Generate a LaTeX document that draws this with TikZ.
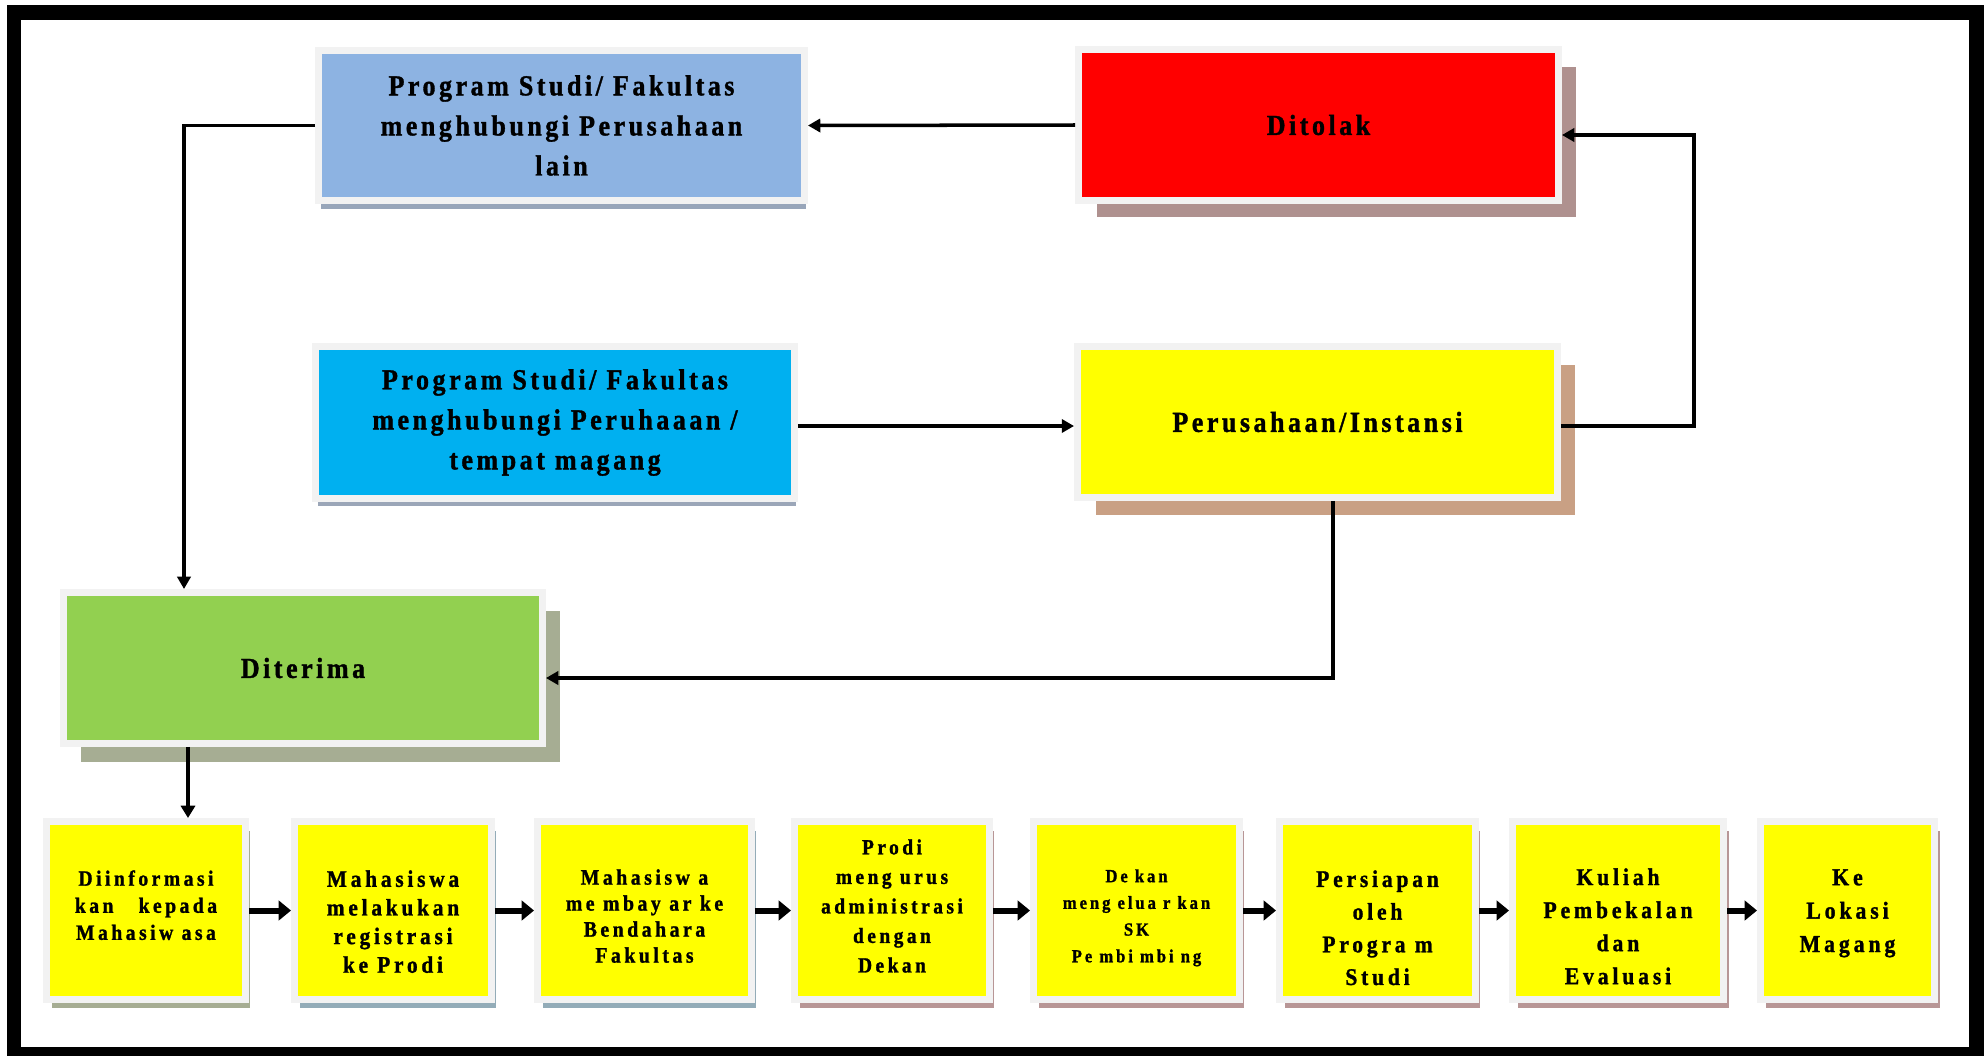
\documentclass[tikz,border=0pt]{standalone}
\usepackage{fontspec}
\newfontfamily\bx[FakeStretch=0.9,LetterSpace=12,FakeBold=1.2]{Liberation Serif}
\newfontfamily\bxs[FakeStretch=0.9,LetterSpace=16,FakeBold=1.2]{Liberation Serif}
\usetikzlibrary{arrows.meta,shadows}
\definecolor{bordergray}{HTML}{F2F2F2}
\definecolor{lblue}{HTML}{8DB3E2}
\definecolor{lbluesh}{HTML}{98A6BA}
\definecolor{redfill}{HTML}{FF0000}
\definecolor{redsh}{HTML}{AF918F}
\definecolor{cyanfill}{HTML}{00B0F0}
\definecolor{cyansh}{HTML}{9BA6B8}
\definecolor{yel}{HTML}{FFFF00}
\definecolor{persh}{HTML}{C9A084}
\definecolor{grn}{HTML}{92D050}
\definecolor{grnsh}{HTML}{A6AD93}
\definecolor{bluegraysh}{HTML}{93ACB8}
\definecolor{mauvesh}{HTML}{B89696}
\newcommand\bxf[2]{\bx\bfseries\fontsize{#1}{#2}\selectfont}
\newcommand\bxsf[2]{\bxs\bfseries\fontsize{#1}{#2}\selectfont}
\tikzset{
  frame/.style={draw=black, line width=0.3cm},
  bigbox/.style={draw=bordergray, line width=0.14cm, inner sep=0pt, align=center,
                 font={\bxf{16.5}{22.8}}, text=black},
  smallbox/.style={draw=bordergray, line width=0.14cm, inner sep=0pt, fill=yel,
                 minimum height=3.56cm},
  lbl/.style={inner sep=0pt, align=center, anchor=north, text=black},
  conn/.style={line width=2pt, -{Triangle[length=7pt,width=7.5pt]}},
  flow/.style={line width=3.4pt, -{Triangle[length=7pt,width=11pt]}},
  down/.style={line width=2.4pt, -{Triangle[length=7pt,width=8pt]}},
}
\begin{document}
\begin{tikzpicture}[x=0.02cm,y=-0.02cm]
\useasboundingbox (0,0) rectangle (1984,1055);
\draw[frame] (14,12.5) rectangle (1976.5,1054);

% upper boxes
\node[bigbox, fill=lblue, minimum width=9.72cm, minimum height=3.0cm,
  drop shadow={shadow xshift=0.04cm, shadow yshift=-0.17cm, fill=lbluesh, opacity=1}]
  (lain) at (561.5,125.5) {Program Studi/ Fakultas\\menghubungi Perusahaan\\lain};
\node[bigbox, fill=redfill, minimum width=9.6cm, minimum height=3.02cm,
  drop shadow={shadow xshift=0.36cm, shadow yshift=-0.34cm, fill=redsh, opacity=1}]
  (tolak) at (1318.5,125) {Ditolak};
\node[bigbox, fill=cyanfill, minimum width=9.58cm, minimum height=3.04cm,
  drop shadow={shadow xshift=0.04cm, shadow yshift=-0.15cm, fill=cyansh, opacity=1}]
  (prodi) at (555,422.5) {Program Studi/ Fakultas\\menghubungi Peruhaaan /\\tempat magang};
\node[bigbox, fill=yel, minimum width=9.6cm, minimum height=3.02cm,
  drop shadow={shadow xshift=0.36cm, shadow yshift=-0.36cm, fill=persh, opacity=1}]
  (inst) at (1317.5,422) {Perusahaan/Instansi};
\node[bigbox, fill=grn, minimum width=9.58cm, minimum height=3.02cm,
  drop shadow={shadow xshift=0.35cm, shadow yshift=-0.37cm, fill=grnsh, opacity=1}]
  (terima) at (303,668) {Diterima};

% bottom row boxes
\node[smallbox, minimum width=3.98cm,
  drop shadow={shadow xshift=0.1cm, shadow yshift=-0.18cm, fill=grnsh, opacity=1}] (s1) at (146,910.5) {};
\node[smallbox, minimum width=3.94cm,
  drop shadow={shadow xshift=0.1cm, shadow yshift=-0.18cm, fill=bluegraysh, opacity=1}] (s2) at (393,910.5) {};
\node[smallbox, minimum width=4.28cm,
  drop shadow={shadow xshift=0.1cm, shadow yshift=-0.18cm, fill=bluegraysh, opacity=1}] (s3) at (644.5,910.5) {};
\node[smallbox, minimum width=3.9cm,
  drop shadow={shadow xshift=0.1cm, shadow yshift=-0.18cm, fill=mauvesh, opacity=1}] (s4) at (892,910.5) {};
\node[smallbox, minimum width=4.12cm,
  drop shadow={shadow xshift=0.1cm, shadow yshift=-0.18cm, fill=mauvesh, opacity=1}] (s5) at (1136.5,910.5) {};
\node[smallbox, minimum width=3.92cm,
  drop shadow={shadow xshift=0.1cm, shadow yshift=-0.18cm, fill=mauvesh, opacity=1}] (s6) at (1377.5,910.5) {};
\node[smallbox, minimum width=4.22cm,
  drop shadow={shadow xshift=0.1cm, shadow yshift=-0.18cm, fill=mauvesh, opacity=1}] (s7) at (1618,910.5) {};
\node[smallbox, minimum width=3.48cm,
  drop shadow={shadow xshift=0.1cm, shadow yshift=-0.18cm, fill=mauvesh, opacity=1}] (s8) at (1847.5,910.5) {};

% bottom row texts
\node[lbl, font={\bxsf{12.4}{15.4}}] (t1) at (146,870) {Diinformasi\\kan\ \ \ kepada\\Mahasiw asa};
\node[lbl, font={\bxsf{13.5}{16.3}}] (t2) at (393,870) {Mahasiswa\\melakukan\\registrasi\\ke Prodi};
\node[lbl, font={\bxsf{12.5}{14.8}}] (t3) at (644.5,869) {Mahasisw a\\me mbay ar ke\\Bendahara\\Fakultas};
\node[lbl, font={\bxsf{12.3}{16.8}}] (t4) at (892,839) {Prodi\\meng urus\\administrasi\\dengan\\Dekan};
\node[lbl, font={\bxsf{10.5}{15.2}}] (t5) at (1136.5,869) {De kan\\meng elua r kan\\SK\\Pe mbi mbi ng};
\node[lbl, font={\bxsf{13.6}{18.6}}] (t6) at (1377.5,870) {Persiapan\\oleh\\Progra m\\Studi};
\node[lbl, font={\bxsf{13.7}{18.8}}] (t7) at (1618,868) {Kuliah\\Pembekalan\\dan\\Evaluasi};
\node[lbl, font={\bxsf{13.8}{19}}] (t8) at (1847.5,869) {Ke\\Lokasi\\Magang};

% bend points
\coordinate (c1) at (184,125.5);
\coordinate (c2) at (1694,135);
\coordinate (c3) at (1333,678);
\coordinate (c4) at (188,760);

% upper connectors
\draw[conn] (tolak.west) -- (lain.east);
\draw[conn] (lain.west) -- (c1) -- (c1 |- terima.north);
\draw[conn] (prodi.east |- 0,426) -- (inst.west |- 0,426);
\draw[conn] (inst.east |- 0,426) -| (c2) -- (c2 -| tolak.east);
\draw[conn] (inst.south -| c3) -- (c3) -- (c3 -| terima.east);
\draw[down] (terima.south -| c4) -- (c4 |- s1.north);

% bottom flow
\draw[flow] (s1.east) -- (s2.west);
\draw[flow] (s2.east) -- (s3.west);
\draw[flow] (s3.east) -- (s4.west);
\draw[flow] (s4.east) -- (s5.west);
\draw[flow] (s5.east) -- (s6.west);
\draw[flow] (s6.east) -- (s7.west);
\draw[flow] (s7.east) -- (s8.west);
\end{tikzpicture}
\end{document}
